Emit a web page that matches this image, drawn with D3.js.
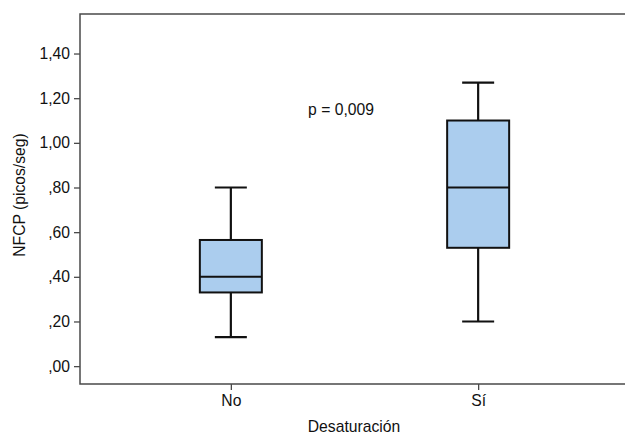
<!DOCTYPE html>
<html>
<head>
<meta charset="utf-8">
<script src="https://cdn.jsdelivr.net/npm/d3@7"></script>
<style>
    html, body { margin: 0; padding: 0; background: #fff; overflow: hidden; }
    svg { display: block; font-family: "Liberation Sans", Arial, sans-serif; }
</style>
</head>
<body>
<div id="chart"></div>
<script>
// categories and box statistics
var groups = ["No", "Sí"];
var mins = [0.13, 0.20];
var q1s = [0.33, 0.53];
var medians = [0.40, 0.80];
var q3s = [0.565, 1.10];
var maxs = [0.80, 1.27];
var yTicks = [0, 0.2, 0.4, 0.6, 0.8, 1.0, 1.2, 1.4];
var yTickLabels = [",00", ",20", ",40", ",60", ",80", "1,00", "1,20", "1,40"];
var pText = "p = 0,009";

var w = 625, h = 435;
var plotLeft = 80, plotTop = 14, plotRight = 629, plotBottom = 384;
var fontSize = "15.7px";

var svg = d3.select("#chart").append("svg")
    .attr("width", w)
    .attr("height", h);

var y = d3.scaleLinear().domain([-0.08, 1.577]).range([plotBottom, plotTop]);
var x = d3.scalePoint().domain(groups).range([plotLeft, plotRight]).padding(0.61);

// frame: the right side runs past the picture's edge
svg.append("path")
    .attr("d", "M" + w + "," + plotTop + "H" + plotLeft + "V" + plotBottom + "H" + w)
    .attr("fill", "none")
    .attr("stroke", "#4a4a4a")
    .attr("stroke-width", 1.5);

// y axis
var yAxis = d3.axisLeft(y)
    .tickValues(yTicks)
    .tickSize(6)
    .tickPadding(4)
    .tickFormat(function (d, i) { return yTickLabels[i]; });
var gy = svg.append("g").attr("transform", "translate(" + plotLeft + ",0)").call(yAxis);
gy.select(".domain").remove();
gy.selectAll("line").attr("stroke", "#4a4a4a").attr("stroke-width", 1.3);
gy.selectAll("text").style("font-size", fontSize).attr("fill", "#111");

// x axis
var xAxis = d3.axisBottom(x).tickSize(6).tickPadding(5);
var gx = svg.append("g").attr("transform", "translate(0," + plotBottom + ")").call(xAxis);
gx.select(".domain").remove();
gx.selectAll("line").attr("stroke", "#4a4a4a").attr("stroke-width", 1.3);
gx.selectAll("text").style("font-size", fontSize).attr("fill", "#111");

// boxes
var boxW = 62, capW = 32;
var data = groups.map(function (g, i) {
    return { g: g, min: mins[i], q1: q1s[i], med: medians[i], q3: q3s[i], max: maxs[i] };
});

var boxes = svg.selectAll(".box")
    .data(data)
    .enter()
    .append("g")
    .classed("box", true);

// whiskers
boxes.append("line")
    .attr("x1", function (d) { return x(d.g); })
    .attr("x2", function (d) { return x(d.g); })
    .attr("y1", function (d) { return y(d.max); })
    .attr("y2", function (d) { return y(d.min); })
    .attr("stroke", "#111").attr("stroke-width", 2.2);

boxes.append("line")
    .attr("x1", function (d) { return x(d.g) - capW / 2; })
    .attr("x2", function (d) { return x(d.g) + capW / 2; })
    .attr("y1", function (d) { return y(d.max); })
    .attr("y2", function (d) { return y(d.max); })
    .attr("stroke", "#111").attr("stroke-width", 2.2);

boxes.append("line")
    .attr("x1", function (d) { return x(d.g) - capW / 2; })
    .attr("x2", function (d) { return x(d.g) + capW / 2; })
    .attr("y1", function (d) { return y(d.min); })
    .attr("y2", function (d) { return y(d.min); })
    .attr("stroke", "#111").attr("stroke-width", 2.2);

boxes.append("rect")
    .attr("x", function (d) { return x(d.g) - boxW / 2; })
    .attr("y", function (d) { return y(d.q3); })
    .attr("width", boxW)
    .attr("height", function (d) { return y(d.q1) - y(d.q3); })
    .attr("fill", "#abcdee")
    .attr("stroke", "#111").attr("stroke-width", 2);

boxes.append("line")
    .attr("x1", function (d) { return x(d.g) - boxW / 2; })
    .attr("x2", function (d) { return x(d.g) + boxW / 2; })
    .attr("y1", function (d) { return y(d.med); })
    .attr("y2", function (d) { return y(d.med); })
    .attr("stroke", "#111").attr("stroke-width", 2);

// p value
svg.append("text")
    .attr("x", 341).attr("y", 115)
    .attr("text-anchor", "middle")
    .style("font-size", fontSize)
    .attr("fill", "#111")
    .text(pText);

// axis titles
svg.append("text")
    .attr("x", 354).attr("y", 432)
    .attr("text-anchor", "middle")
    .style("font-size", fontSize)
    .attr("fill", "#111")
    .text("Desaturación");

svg.append("text")
    .attr("transform", "translate(25,195) rotate(-90)")
    .attr("text-anchor", "middle")
    .style("font-size", fontSize)
    .attr("fill", "#111")
    .text("NFCP (picos/seg)");
</script>
</body>
</html>
